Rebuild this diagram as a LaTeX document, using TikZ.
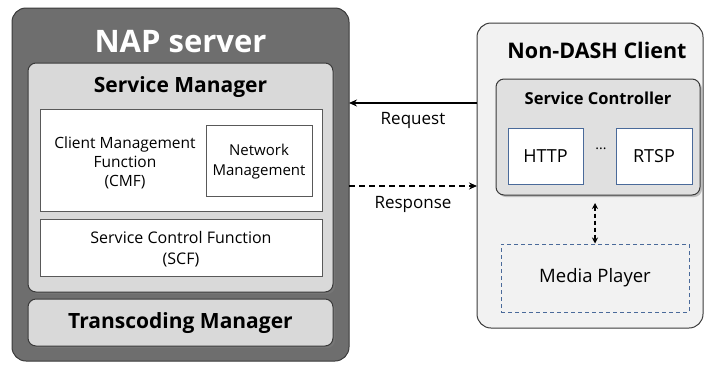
\documentclass[tikz,border=0pt]{standalone}
\usepackage{fontspec}
\setmainfont{Open Sans}
\usetikzlibrary{arrows.meta,shadows}
\definecolor{napfill}{HTML}{6E6E6E}
\definecolor{napdraw}{HTML}{3A3A3A}
\definecolor{smfill}{HTML}{D9D9D9}
\definecolor{clfill}{HTML}{F2F2F2}
\definecolor{scfill}{HTML}{E0E0E0}
\definecolor{blueline}{HTML}{4A6A9A}
\tikzset{
  outerbox/.style={draw=napdraw, line width=1pt, rounded corners=14pt},
  graybox/.style={draw=napdraw, fill=smfill, line width=1pt, rounded corners=8pt,
    drop shadow={shadow xshift=2pt, shadow yshift=-2pt, opacity=0.45}},
  whitebox/.style={draw=gray!70!black, fill=white, line width=0.6pt},
  protobox/.style={draw=blueline, fill=white, line width=0.9pt},
  lbl/.style={inner sep=0pt, align=center},
  conn/.style={line width=1.6pt, -{Stealth[length=8pt,width=7pt]}},
}
\begin{document}
\begin{tikzpicture}[x=1pt,y=-1pt]
\useasboundingbox (0,0) rectangle (704,365);
% NAP server
\draw[outerbox, fill=napfill] (12,8) rectangle (349,361);
\node[lbl, text=white, font=\bfseries\fontsize{31}{34}\selectfont] (napt) at (180.5,42) {NAP server};
\coordinate (napE) at (349,103);
% Service manager
\draw[graybox] (28,63) rectangle (333,292);
\node[lbl, font=\bfseries\fontsize{21}{24}\selectfont] (smt) at (180.5,87) {Service Manager};
\draw[whitebox] (40,109) rectangle (322,211);
\node[lbl, font=\fontsize{15.5}{19}\selectfont] (cmf) at (125,163) {Client Management\\Function\\(CMF)};
\draw[whitebox] (206,125) rectangle (312,196);
\node[lbl, font=\fontsize{15}{20}\selectfont] (nm) at (259,162) {Network\\Management};
\draw[whitebox] (40,219) rectangle (322,276);
\node[lbl, font=\fontsize{16}{21.5}\selectfont] (scf) at (181,249) {Service Control Function\\(SCF)};
% Transcoding
\draw[graybox] (28,299) rectangle (333,346);
\node[lbl, font=\bfseries\fontsize{21}{24}\selectfont] (tm) at (180.5,323) {Transcoding Manager};
% Non-DASH client
\draw[outerbox, fill=clfill] (477,23) rectangle (703,328);
\node[lbl, font=\bfseries\fontsize{21.5}{24}\selectfont] (ndt) at (597,50) {Non-DASH Client};
\draw[graybox, fill=scfill] (496,79) rectangle (700,195);
\node[lbl, font=\bfseries\fontsize{16.5}{19}\selectfont] (sct) at (598,98) {Service Controller};
\node[protobox, minimum width=75pt, minimum height=56pt, font=\fontsize{18}{20}\selectfont] (http) at (545.5,156) {HTTP};
\node[protobox, minimum width=76pt, minimum height=56pt, font=\fontsize{18}{20}\selectfont] (rtsp) at (654,156) {RTSP};
\node[lbl, font=\fontsize{14}{15}\selectfont] (dots) at (601,149) {...};
\node[draw=blueline, dashed, line width=1pt, dash pattern=on 4pt off 3pt, minimum width=188pt, minimum height=68pt, font=\fontsize{18.5}{20}\selectfont] (mp) at (595,278) {Media Player};
\coordinate (scS) at (595,203);
\draw[line width=1.2pt, dashed, dash pattern=on 4pt off 3pt, {Stealth[length=6pt,width=6pt]}-{Stealth[length=6pt,width=6pt]}] (scS) -- (mp.north);
% connectors
\coordinate (clW1) at (477,103);
\coordinate (clW2) at (477,186);
\coordinate (napE2) at (349,186);
\draw[conn] (clW1) -- (napE);
\draw[conn, dash pattern=on 6pt off 4pt] (napE2) -- (clW2);
\node[lbl, font=\fontsize{17}{19}\selectfont] (req) at (413,120) {Request};
\node[lbl, font=\fontsize{17}{19}\selectfont] (resp) at (413,204) {Response};
\end{tikzpicture}
\end{document}
